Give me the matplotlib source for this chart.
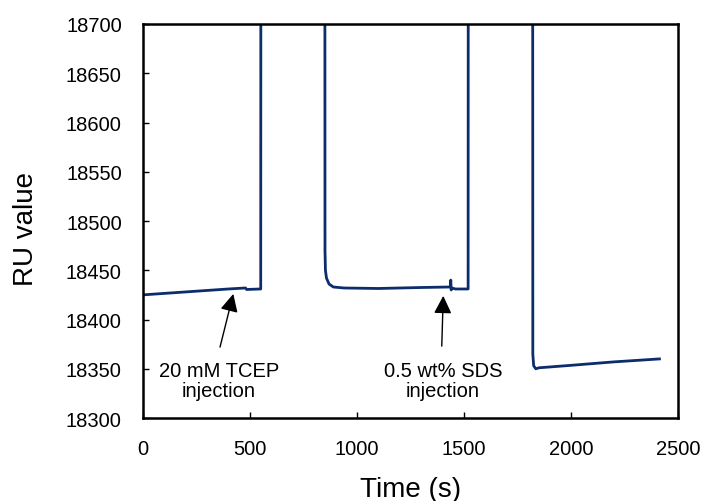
import matplotlib
matplotlib.use("Agg")
import matplotlib.pyplot as plt

plt.rcParams['font.family'] = ['Liberation Sans', 'DejaVu Sans']

# Sensorgram trace (values above 18700 are off-scale and clipped by the axes)
time_s = [0, 100, 200, 300, 400, 480, 485, 551, 552,
          850, 851, 853, 858, 870, 890, 940, 1100, 1300, 1430, 1436, 1438, 1440, 1442, 1460, 1519, 1520,
          1820, 1821, 1825, 1835, 1850, 2000, 2200, 2412]
ru_value = [18425, 18426.5, 18428, 18429.5, 18431, 18432, 18430.5, 18431, 19000,
            19000, 18470, 18450, 18442, 18436, 18433, 18432, 18431.5, 18432.5, 18433, 18433, 18440, 18430, 18432, 18431, 18431, 19000,
            19000, 18365, 18353, 18350, 18351, 18353.5, 18357, 18360]

x_ticks = [0, 500, 1000, 1500, 2000, 2500]
y_ticks = [18300, 18350, 18400, 18450, 18500, 18550, 18600, 18650, 18700]
y_tick_labels = ['18300', '18350', '18400', '18450', '18500', '18550', '18600', '18650', '18700']

annot_texts = ['20 mM TCEP\ninjection', '0.5 wt% SDS\ninjection']
annot_text_xy = [(356, 18338), (1402, 18338)]
annot_tail_xy = [(361, 18372), (1396, 18373)]
annot_tip_xy = [(423, 18426), (1403, 18424)]

fig = plt.figure(figsize=(7.07, 5.02), dpi=100)
ax = fig.add_axes([0.2018, 0.1653, 0.7576, 0.7849])

ax.plot(time_s, ru_value, color='#0c2c6c', lw=2.0, solid_joinstyle='round')

ax.set_xlim(0, 2500)
ax.set_ylim(18300, 18700)
ax.set_xticks(x_ticks)
ax.set_xticklabels([str(v) for v in x_ticks])
ax.set_yticks(y_ticks)
ax.set_yticklabels(y_tick_labels)

for s in ax.spines.values():
    s.set_linewidth(1.8)
    s.set_color('black')

ax.tick_params(axis='both', direction='in', length=4, width=1, labelsize=14.5,
               top=False, right=False)
ax.tick_params(axis='y', pad=15)
ax.tick_params(axis='x', pad=15)

ax.set_xlabel('Time (s)', fontsize=20)
ax.set_ylabel('RU value', fontsize=20)
ax.xaxis.set_label_coords(0.5, -0.147)
ax.yaxis.set_label_coords(-0.194, 0.482)

for txt, txy, tail, tip in zip(annot_texts, annot_text_xy, annot_tail_xy, annot_tip_xy):
    ax.text(txy[0], txy[1], txt, ha='center', va='center', fontsize=14.5, linespacing=1.12)
    ax.annotate('', xy=tip, xytext=tail,
                arrowprops=dict(arrowstyle='-|>', color='black', lw=1, mutation_scale=27,
                                shrinkA=0, shrinkB=0))

fig.savefig('out.png', dpi=100)
